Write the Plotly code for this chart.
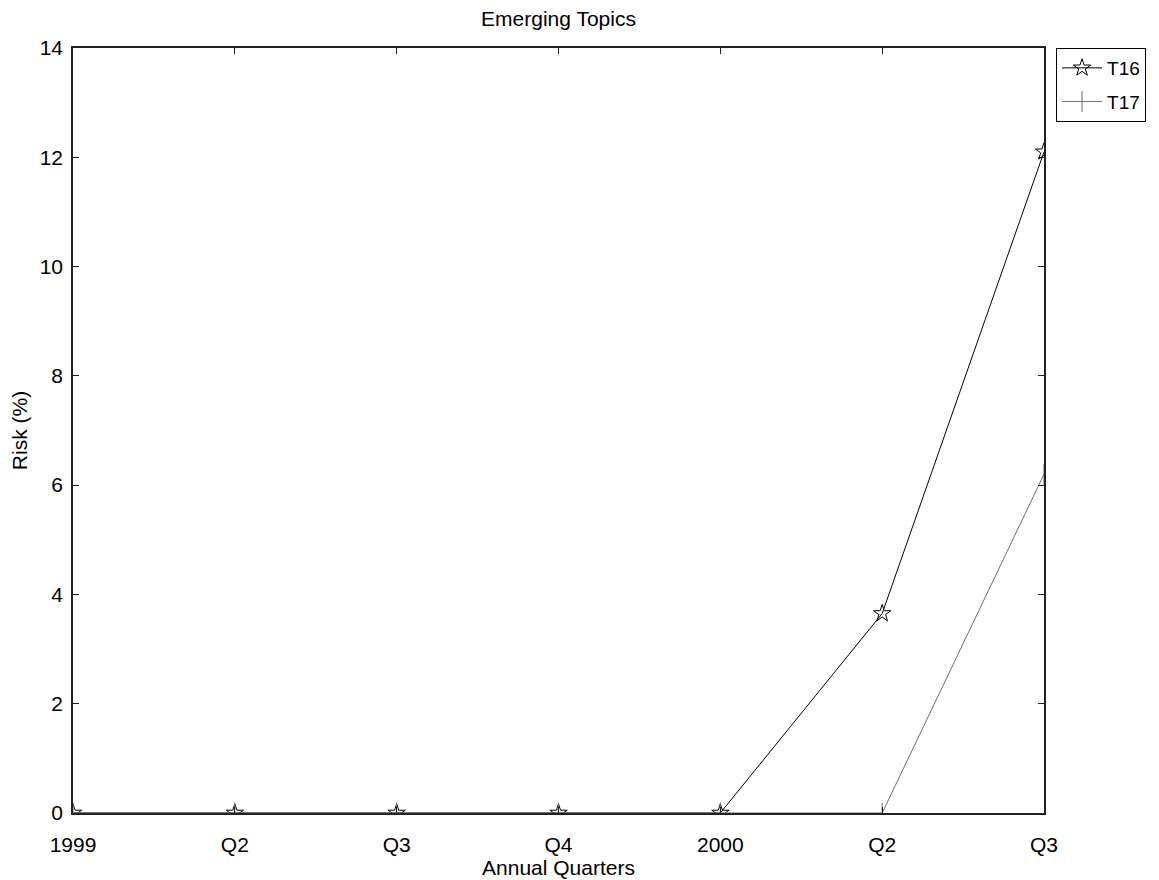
import plotly.graph_objects as go

quarters = ["1999", "Q2", "Q3", "Q4", "2000", "Q2", "Q3"]
t16 = [0, 0, 0, 0, 0, 3.65, 12.1]
t17 = [0, 0, 0, 0, 0, 0, 6.2]
xpos = list(range(len(quarters)))

fig = go.Figure()
fig.add_trace(go.Scatter(x=xpos, y=t16, name="T16", mode="lines+markers", legendgroup="a",
                         line=dict(color="black", width=1),
                         marker=dict(symbol="star-open", size=13, color="black", line=dict(width=1))))
fig.add_trace(go.Scatter(x=xpos, y=t17, name="T17", mode="lines+markers", legendgroup="b",
                         line=dict(color="#6e6e6e", width=1),
                         marker=dict(symbol="line-ns-open", size=15, color="#6e6e6e",
                                     line=dict(width=1, color="#6e6e6e"))))

axis_common = dict(showline=True, linecolor="#222222", linewidth=1.5, mirror="ticks",
                   ticks="inside", ticklen=6, tickcolor="#222222", tickwidth=1,
                   showgrid=False, zeroline=False, tickfont=dict(size=21, color="black"))

fig.update_layout(
    width=1151, height=872,
    paper_bgcolor="white", plot_bgcolor="white",
    font=dict(family="Liberation Sans, Arial, sans-serif", color="black"),
    margin=dict(l=65, r=115, t=40, b=67, autoexpand=False),
    title=dict(text="Emerging Topics", x=0.5, xref="paper", xanchor="center",
               y=0.988, yref="container", yanchor="middle",
               font=dict(size=21, color="black")),
    xaxis=dict(range=[0, 6], tickvals=xpos, ticktext=quarters, ticklabelstandoff=12,
               title=dict(text="Annual Quarters", font=dict(size=21), standoff=4), **axis_common),
    yaxis=dict(range=[0, 14], tickvals=list(range(0, 15, 2)), ticklabelstandoff=4,
               title=dict(text="Risk (%)", font=dict(size=21), standoff=10), **axis_common),
    legend=dict(x=1.0124, y=1, xanchor="left", yanchor="top", bordercolor="black", borderwidth=1,
                font=dict(size=19), bgcolor="white", tracegroupgap=6, itemwidth=40),
    showlegend=True,
)

fig.write_html("out.html")
